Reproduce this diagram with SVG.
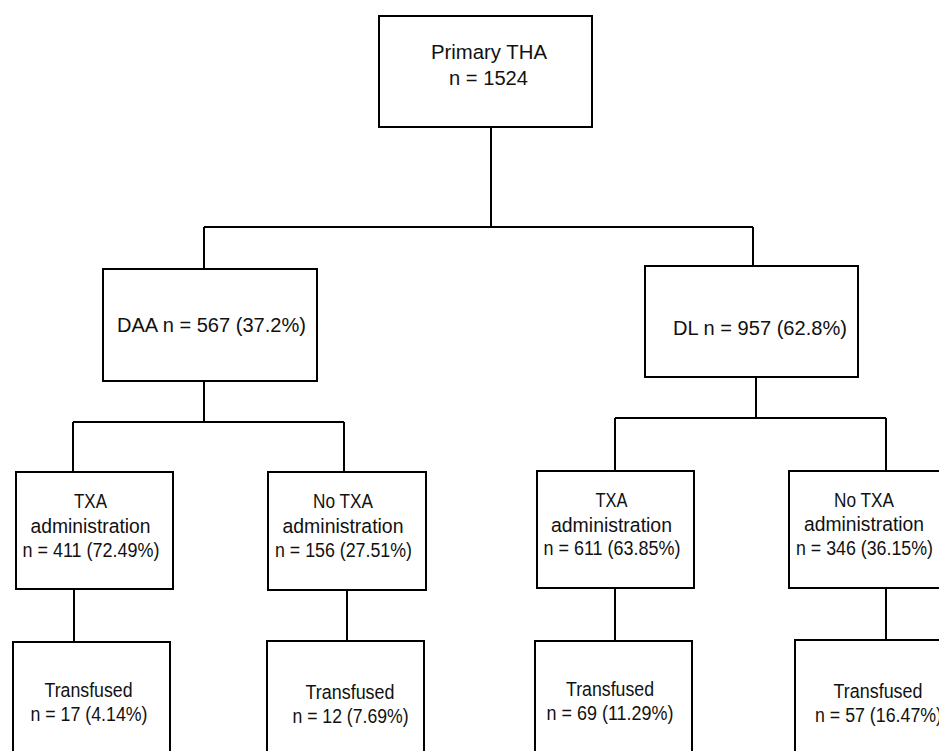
<svg xmlns="http://www.w3.org/2000/svg" width="939" height="751" viewBox="0 0 939 751">
<style>
.box{fill:#fff;stroke:#000;stroke-width:2}
.ln{fill:none;stroke:#000;stroke-width:2}
text{font-family:"Liberation Sans",Arial,sans-serif;font-size:20.5px;fill:#111;text-anchor:start}
</style>
<rect width="939" height="751" fill="#fff"/>
<g id="connectors">
<path class="ln" d="M491 127V227M204 227H753M204 227V269M753 227V266"/>
<path class="ln" d="M204 381V422M73 422H344M73 422V472M344 422V472M74 589V642M347 590V641"/>
<path class="ln" d="M756 377V418M615 418H886M615 418V471M886 418V471M615 588V641M886 588V640"/>
</g>
<g id="primary">
<rect class="box" x="379" y="16" width="213" height="111"/>
<text x="431" y="59" textLength="116" lengthAdjust="spacingAndGlyphs">Primary THA</text>
<text x="449" y="85" textLength="79" lengthAdjust="spacingAndGlyphs">n = 1524</text>
</g>
<g id="daa">
<rect class="box" x="103" y="269" width="214" height="112"/>
<text x="117" y="332" textLength="189" lengthAdjust="spacingAndGlyphs">DAA n = 567 (37.2%)</text>
</g>
<g id="dl">
<rect class="box" x="645" y="266" width="213" height="111"/>
<text x="673" y="335" textLength="174" lengthAdjust="spacingAndGlyphs">DL n = 957 (62.8%)</text>
</g>
<g id="daa-txa">
<rect class="box" x="16" y="472" width="157" height="117"/>
<text x="74" y="508" textLength="33" lengthAdjust="spacingAndGlyphs">TXA</text>
<text x="30.5" y="533" textLength="120" lengthAdjust="spacingAndGlyphs">administration</text>
<text x="22.5" y="557" textLength="137" lengthAdjust="spacingAndGlyphs">n = 411 (72.49%)</text>
</g>
<g id="daa-notxa">
<rect class="box" x="268" y="472" width="158" height="118"/>
<text x="313" y="508" textLength="60" lengthAdjust="spacingAndGlyphs">No TXA</text>
<text x="282.5" y="533" textLength="121" lengthAdjust="spacingAndGlyphs">administration</text>
<text x="275" y="557" textLength="137" lengthAdjust="spacingAndGlyphs">n = 156 (27.51%)</text>
</g>
<g id="dl-txa">
<rect class="box" x="537" y="471" width="157" height="117"/>
<text x="595.5" y="507" textLength="32" lengthAdjust="spacingAndGlyphs">TXA</text>
<text x="551" y="532" textLength="121" lengthAdjust="spacingAndGlyphs">administration</text>
<text x="543.5" y="555" textLength="137" lengthAdjust="spacingAndGlyphs">n = 611 (63.85%)</text>
</g>
<g id="dl-notxa">
<rect class="box" x="789" y="471" width="170" height="117"/>
<text x="834" y="507" textLength="60" lengthAdjust="spacingAndGlyphs">No TXA</text>
<text x="804" y="531" textLength="120" lengthAdjust="spacingAndGlyphs">administration</text>
<text x="796" y="555" textLength="137" lengthAdjust="spacingAndGlyphs">n = 346 (36.15%)</text>
</g>
<g id="daa-txa-transfused">
<rect class="box" x="13" y="642" width="157" height="130"/>
<text x="44.5" y="697" textLength="88" lengthAdjust="spacingAndGlyphs">Transfused</text>
<text x="30.5" y="721" textLength="117" lengthAdjust="spacingAndGlyphs">n = 17 (4.14%)</text>
</g>
<g id="daa-notxa-transfused">
<rect class="box" x="267" y="641" width="157" height="130"/>
<text x="305.5" y="699" textLength="89" lengthAdjust="spacingAndGlyphs">Transfused</text>
<text x="292.5" y="723" textLength="116" lengthAdjust="spacingAndGlyphs">n = 12 (7.69%)</text>
</g>
<g id="dl-txa-transfused">
<rect class="box" x="535" y="641" width="157" height="130"/>
<text x="566" y="696" textLength="88" lengthAdjust="spacingAndGlyphs">Transfused</text>
<text x="546.5" y="720" textLength="127" lengthAdjust="spacingAndGlyphs">n = 69 (11.29%)</text>
</g>
<g id="dl-notxa-transfused">
<rect class="box" x="795" y="640" width="170" height="130"/>
<text x="833.5" y="698" textLength="89" lengthAdjust="spacingAndGlyphs">Transfused</text>
<text x="815" y="722" textLength="127" lengthAdjust="spacingAndGlyphs">n = 57 (16.47%)</text>
</g>
</svg>
